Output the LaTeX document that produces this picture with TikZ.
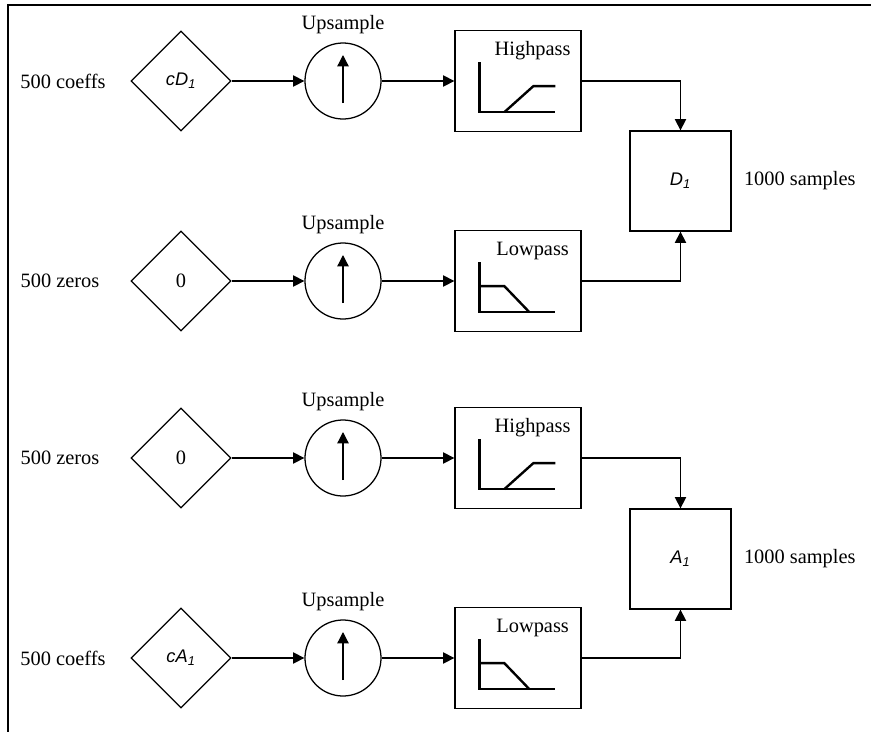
\documentclass[tikz,border=0pt]{standalone}
\usepackage{fontspec}
\setmainfont{Liberation Serif}
\setsansfont{Liberation Sans}
\usetikzlibrary{arrows.meta,positioning,shapes.geometric}

\tikzset{
	coef/.style={diamond,draw,minimum size=2.5cm,inner sep=0pt},
	upsmp/.style={circle,draw,minimum size=1.9cm,inner sep=0pt,
		label={[label distance=2pt]above:Upsample}},
	filt/.style={rectangle,draw,minimum width=3.15cm,minimum height=2.525cm},
	recon/.style={rectangle,draw,minimum width=2.525cm,minimum height=2.5cm},
	resp/.style={-,line width=1.7pt},
}
\newcommand{\sig}[2]{{\fontsize{13}{15}\selectfont\sffamily\itshape #1\textsubscript{#2}}}

% response sketches, measured from the lower left corner of a filter box
\newcommand{\hpresp}[1]{%
	\draw[resp] ([shift={(25,-70)}]#1.south west) -- ([shift={(25,-20)}]#1.south west)
	-- ([shift={(101,-20)}]#1.south west);
	\draw[resp] ([shift={(50,-20)}]#1.south west) -- ([shift={(79,-46)}]#1.south west)
	-- ([shift={(101,-46)}]#1.south west);}
\newcommand{\lpresp}[1]{%
	\draw[resp] ([shift={(25,-70)}]#1.south west) -- ([shift={(25,-20)}]#1.south west)
	-- ([shift={(101,-20)}]#1.south west);
	\draw[resp] ([shift={(25,-46)}]#1.south west) -- ([shift={(50,-46)}]#1.south west)
	-- ([shift={(75,-20)}]#1.south west);}

\begin{document}
\begin{tikzpicture}[x=0.025cm,y=-0.025cm,->,>={Triangle[length=8pt,width=8pt]},
	line width=0.9pt,font=\fontsize{14.5}{17}\selectfont]
	\useasboundingbox (0,0) rectangle (871,732);
	\draw[-] (8,732) -- (8,5) -- (871,5);
	
	% detail branch
	\node (in1) at (63,81) {500 coeffs};
	\node[coef] (cd1) at (181,81) {\sig{cD}{1}};
	\node[upsmp] (up1) at (343,81) {};
	\node[filt] (hp1) at (518,81) {};
	\node (hp1t) at ([shift={(-49,21)}]hp1.north east) {Highpass};
	
	\node (in2) at (60,281) {500 zeros};
	\node[coef] (z1) at (181,281) {0};
	\node[upsmp] (up2) at (343,281) {};
	\node[filt] (lp1) at (518,281) {};
	\node (lp1t) at ([shift={(-49,21)}]lp1.north east) {Lowpass};
	
	\node[recon] (d1) at (680.5,181) {\sig{D}{1}};
	\node[right=5pt of d1] (d1n) {1000 samples};
	
	% approximation branch
	\node (in3) at (60,458) {500 zeros};
	\node[coef] (z2) at (181,458) {0};
	\node[upsmp] (up3) at (343,458) {};
	\node[filt] (hp2) at (518,458) {};
	\node (hp2t) at ([shift={(-49,21)}]hp2.north east) {Highpass};
	
	\node (in4) at (63,658) {500 coeffs};
	\node[coef] (ca1) at (181,658) {\sig{cA}{1}};
	\node[upsmp] (up4) at (343,658) {};
	\node[filt] (lp2) at (518,658) {};
	\node (lp2t) at ([shift={(-49,21)}]lp2.north east) {Lowpass};
	
	\node[recon] (a1) at (680.5,559) {\sig{A}{1}};
	\node[right=5pt of a1] (a1n) {1000 samples};
	
	% arrows inside the upsamplers
	\foreach \u in {up1,up2,up3,up4}
	\draw ([shift={(0,22)}]\u.center) -- ([shift={(0,-26)}]\u.center);
	
	\hpresp{hp1}
	\lpresp{lp1}
	\hpresp{hp2}
	\lpresp{lp2}
	
	\path (cd1) edge (up1)
	(up1) edge (hp1)
	(z1) edge (up2)
	(up2) edge (lp1)
	(z2) edge (up3)
	(up3) edge (hp2)
	(ca1) edge (up4)
	(up4) edge (lp2);
	
	\draw (hp1) -| (d1);
	\draw (lp1) -| (d1);
	\draw (hp2) -| (a1);
	\draw (lp2) -| (a1);
\end{tikzpicture}
\end{document}
